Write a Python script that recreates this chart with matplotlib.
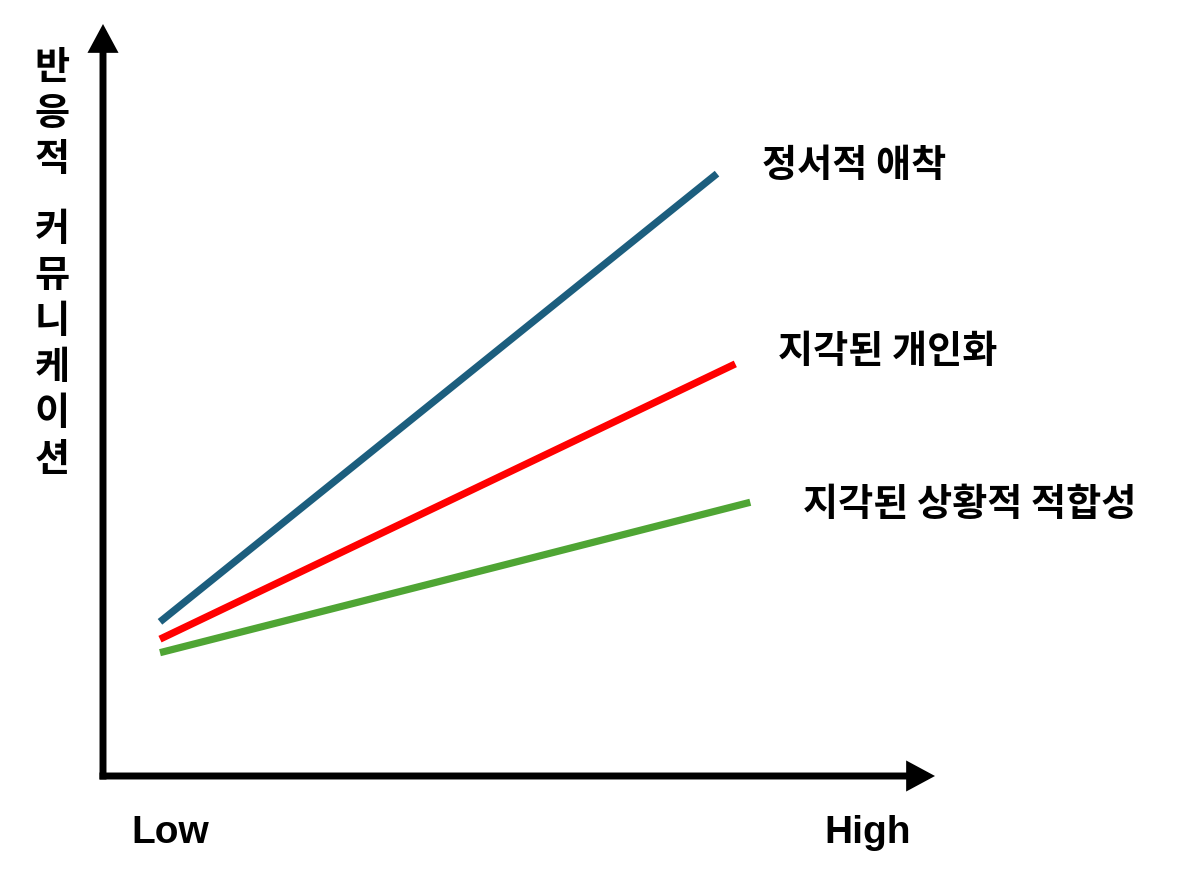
import matplotlib
matplotlib.use("Agg")
import matplotlib.pyplot as plt

plt.rcParams['font.family'] = ['Noto Sans CJK KR', 'DejaVu Sans']

# ---- data ----
series_names = ["정서적 애착", "지각된 개인화", "지각된 상황적 적합성"]
x_start = [0.685, 0.685, 0.685]
x_end = [7.38, 7.60, 7.78]
y_start = [2.05, 1.82, 1.64]
y_end = [8.01, 5.48, 3.64]
colors = ["#1c5e7e", "#ff0000", "#4fa534"]
label_pos = [(7.92, 8.13), (8.11, 5.66), (8.41, 3.62)]
x_tick_labels = ["Low", "High"]
x_tick_pos = [0.805, 9.19]
y_label_groups = ["반응적", "커뮤니케이션"]

W, H = 1200, 879
fig = plt.figure(figsize=(W / 100, H / 100), dpi=100)
ax = fig.add_axes([103 / W, 1 - 777 / H, (935 - 103) / W, (777 - 25) / H])
ax.set_xlim(0, 10)
ax.set_ylim(0, 10)
ax.axis('off')

# axes arrows
arrow_kw = dict(arrowstyle='-|>,head_length=13,head_width=7', lw=5, color='black',
                mutation_scale=1, shrinkA=0, shrinkB=0)
for xy, xytext in [((1.0, 0.0), (-3.5 / 832, 0.0)), ((0.0, 1.0), (0.0, -3.5 / 752))]:
    ann = ax.annotate('', xy=xy, xytext=xytext, xycoords='axes fraction',
                      textcoords='axes fraction', arrowprops=arrow_kw,
                      annotation_clip=False)
    ann.arrow_patch.set_capstyle('butt')
    ann.arrow_patch.set_joinstyle('miter')

# lines
for xs, xe, ys, ye, c in zip(x_start, x_end, y_start, y_end, colors):
    ax.plot([xs, xe], [ys, ye], color=c, lw=5.2, solid_capstyle='butt')

# series labels
for name, (lx, ly) in zip(series_names, label_pos):
    ax.text(lx, ly, name, fontsize=27.5, fontweight='bold', ha='left', va='center',
            color='black', clip_on=False)

# x labels
for t, xp in zip(x_tick_labels, x_tick_pos):
    ax.text(xp, -0.878, t, fontsize=28, fontweight='bold', ha='center', va='baseline',
            family=['Liberation Sans', 'DejaVu Sans'], clip_on=False)

# vertical y label (stacked characters)
y_px = 67
step = 46
for gi, grp in enumerate(y_label_groups):
    if gi > 0:
        y_px += 71 - step
    for ch in grp:
        fig.text(52 / W, 1 - y_px / H, ch, fontsize=27.5, fontweight='bold',
                 ha='center', va='center')
        y_px += step

fig.savefig('out.png', dpi=100, facecolor='white')
